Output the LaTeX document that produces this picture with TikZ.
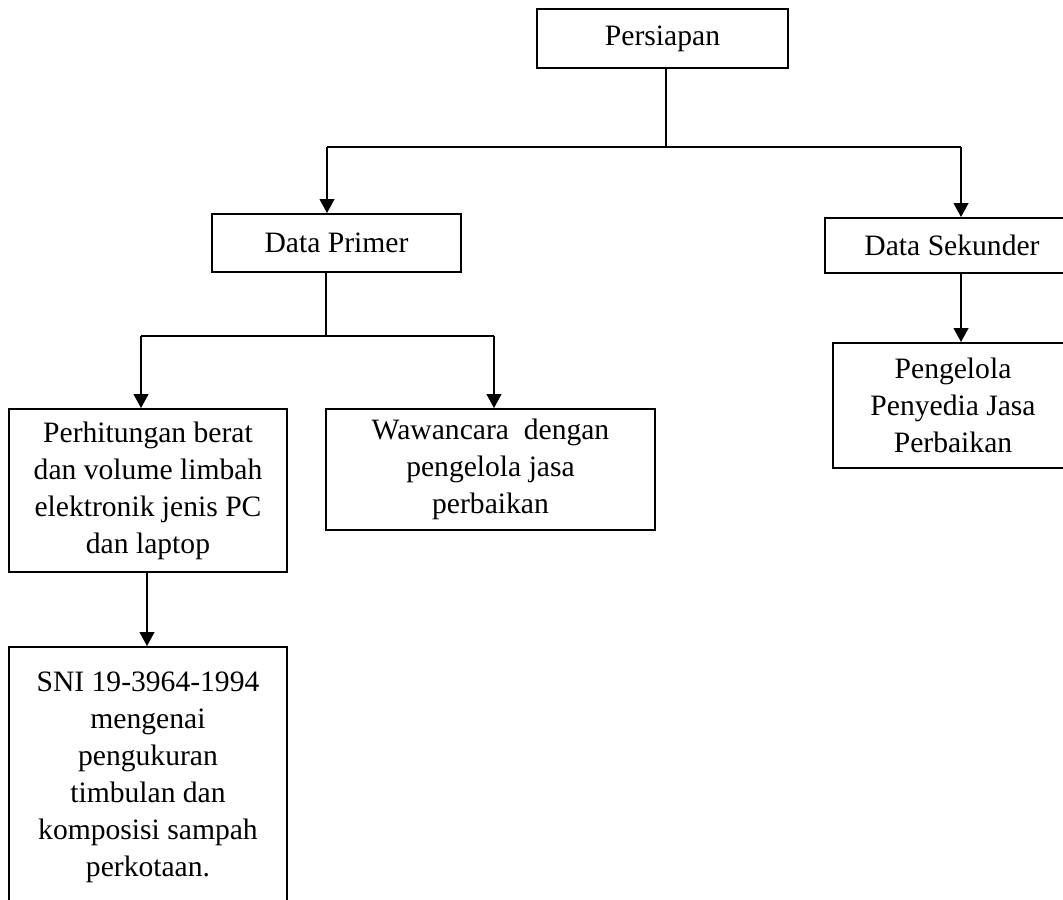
\documentclass[tikz,border=0pt]{standalone}
\usepackage{fontspec}
\setmainfont{Liberation Serif}
\usetikzlibrary{arrows.meta}

\tikzset{
  kotak/.style={draw,line width=1pt,align=center,inner sep=0pt,
    font=\fontsize{14.8}{18.5}\selectfont},
  garis/.style={line width=0.55pt},
  panah/.style={garis,-{Triangle[width=7.5pt,length=7pt]}}
}

\begin{document}
\begin{tikzpicture}[x=0.5pt,y=-0.5pt]
            \useasboundingbox (0,0) rectangle (1063,899);
            \clip (0,0) rectangle (1063,899);
            \fill[white] (0,0) rectangle (1063,899);
            % kotak-kotak
            \node[kotak,minimum width=125.5pt,minimum height=29.5pt] (persiapan) at (662.5,38.5) {Persiapan};
            \node[kotak,minimum width=124.5pt,minimum height=29pt] (primer) at (336.5,243) {Data Primer};
            \node[kotak,minimum width=127pt,minimum height=27.5pt] (sekunder) at (952,245.5) {Data Sekunder};
            \node[kotak,minimum width=139pt,minimum height=81.5pt] (hitung) at (148,490.5) {Perhitungan berat\\dan volume limbah\\elektronik jenis PC\\dan laptop};
            \node[kotak,minimum width=164.5pt,minimum height=60.5pt] (wawancara) at (490.5,469.5) {Wawancara~ dengan\\pengelola jasa\\perbaikan};
            \node[kotak,minimum width=120pt,minimum height=62.5pt] (pengelola) at (953,405.5) {Pengelola\\Penyedia Jasa\\Perbaikan};
            \node[kotak,minimum width=139pt,minimum height=130pt] (sni) at (148,777) {SNI 19-3964-1994\\mengenai\\pengukuran\\timbulan dan\\komposisi sampah\\perkotaan.};
            % titik cabang
            \coordinate (cabang1) at (666,147);
            \coordinate (kePrimer) at (327,147);
            \coordinate (keSekunder) at (961,147);
            \coordinate (cabang2) at (326,336);
            \coordinate (keHitung) at (141,336);
            \coordinate (keWawancara) at (494,336);
            % garis
            \draw[garis] (persiapan.south -| cabang1) -- (cabang1);
            \draw[garis] (kePrimer) -- (keSekunder);
            \draw[panah] (kePrimer) -- (kePrimer |- primer.north);
            \draw[panah] (keSekunder) -- (keSekunder |- sekunder.north);
            \draw[garis] (primer.south -| cabang2) -- (cabang2);
            \draw[garis] (keHitung) -- (keWawancara);
            \draw[panah] (keHitung) -- (keHitung |- hitung.north);
            \draw[panah] (keWawancara) -- (keWawancara |- wawancara.north);
            \draw[panah] (sekunder.south -| keSekunder) -- (keSekunder |- pengelola.north);
            \draw[panah] ([xshift=-0.5pt]hitung.south) -- ([xshift=-0.5pt]sni.north);
        \end{tikzpicture}
\end{document}
